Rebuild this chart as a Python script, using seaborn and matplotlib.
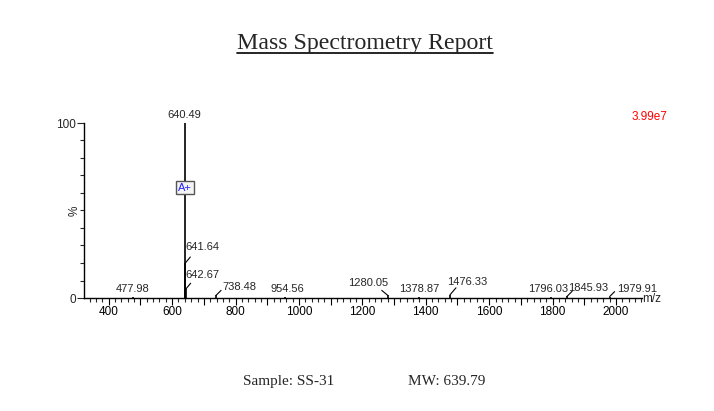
import matplotlib
matplotlib.use("Agg")
import matplotlib.pyplot as plt
import seaborn as sns
import numpy as np
from matplotlib.lines import Line2D
from matplotlib.ticker import MultipleLocator, FixedLocator, FuncFormatter

# ---- data ----
mz = [477.98, 640.49, 641.64, 642.67, 738.48, 954.56, 1280.05, 1378.87,
      1476.33, 1796.03, 1845.93, 1979.91]
intensity = [0.8, 100, 20, 5, 1.5, 0.6, 1.5, 0.5, 1.8, 0.8, 1.0, 0.8]
peak_labels = ["477.98", "640.49", "641.64", "642.67", "738.48", "954.56",
               "1280.05", "1378.87", "1476.33", "1796.03", "1845.93", "1979.91"]
x_ticklabels = ["400", "600", "800", "1000", "1200", "1400", "1600", "1800", "2000"]
title = "Mass Spectrometry Report"
sample_text = "Sample: SS-31"
mw_text = "MW: 639.79"
scale_text = "3.99e7"

# label offsets in pixels (dx, dy) from peak top; leader end offset (or None)
label_offsets = [(-1, 3, None), (-1, 3, None), (17, 11, (5, 6)), (17, 9, (5, 6)),
                 (23, 3, (5, 5)), (3, 3, None), (-20, 7, (-6, 5)), (0, 3, None),
                 (17, 8, (6, 7)), (-3, 3, None), (21, 3, (5, 5)), (27, 3, (5, 5))]

sns.set_style("ticks")
plt.rcParams['font.family'] = ['Liberation Sans', 'DejaVu Sans']

W, H = 714, 411
fig = plt.figure(figsize=(W / 100, H / 100), dpi=100)
ax = fig.add_axes([84 / W, (H - 298) / H, 558 / W, 175 / H])

ax.vlines(mz, 0, intensity, colors="black", linewidth=1.2)
ax.set_xlim(322, 2082)
ax.set_ylim(0, 100)
ax.set_facecolor("white")
sns.despine(ax=ax)
for s in ["left", "bottom"]:
    ax.spines[s].set_linewidth(1.0)
    ax.spines[s].set_color("black")

# x ticks
ax.xaxis.set_major_locator(MultipleLocator(100))
ax.xaxis.set_minor_locator(MultipleLocator(20))
lab_map = {int(t): t for t in x_ticklabels}
ax.xaxis.set_major_formatter(FuncFormatter(lambda v, p: str(int(round(v))) if int(round(v)) in lab_map else ""))
ax.tick_params(axis="x", which="major", length=5, width=0.8, direction="out",
               labelsize=8.5, pad=1, colors="black")
ax.tick_params(axis="x", which="minor", length=3, width=0.8, direction="out")

# y ticks
ax.yaxis.set_major_locator(FixedLocator([0, 100]))
ax.yaxis.set_minor_locator(MultipleLocator(10))
ax.tick_params(axis="y", which="major", length=5, width=0.8, direction="out",
               labelsize=8.5, pad=1)
ax.tick_params(axis="y", which="minor", length=3, width=0.8, direction="out")

ax.text(-0.016, 0.5, "%", rotation=90, transform=ax.transAxes,
        ha="center", va="center", fontsize=8.5)
ax.text(1.0, -0.005, "m/z", transform=ax.transAxes, ha="left", va="center",
        fontsize=8.5)

# peak labels
for x, y, lab, (dx, dy, lead) in zip(mz, intensity, peak_labels, label_offsets):
    ax.annotate(lab, xy=(x, y), xytext=(dx, dy), textcoords="offset pixels",
                ha="center", va="bottom", fontsize=8)
    if lead is not None:
        ax.annotate("", xy=(x, y), xytext=lead, textcoords="offset pixels",
                    arrowprops=dict(arrowstyle="-", lw=0.8, color="black",
                                    shrinkA=0, shrinkB=0))

# A+ marker
ax.text(mz[1], 63, "A+", ha="center", va="center", fontsize=8, color="#2020ff",
        bbox=dict(boxstyle="square,pad=0.15", fc="#f4f4f4", ec="#555555", lw=1.0))

# scale text
fig.text(667 / W, (H - 117) / H, scale_text, color="red", ha="right",
         va="center", fontsize=8.5)

# title with underline
t = fig.text(365 / W, (H - 49) / H, title, ha="center", va="baseline",
             fontsize=17.2, family=["Liberation Serif", "DejaVu Serif"])
fig.text(243 / W, (H - 385) / H, sample_text, ha="left", va="baseline",
         fontsize=11, family=["Liberation Serif", "DejaVu Serif"])
fig.text(408 / W, (H - 385) / H, mw_text, ha="left", va="baseline",
         fontsize=11, family=["Liberation Serif", "DejaVu Serif"])

fig.canvas.draw()
bb = t.get_window_extent()
uy = (H - 53) / H
fig.add_artist(Line2D([bb.x0 / W, bb.x1 / W], [uy, uy], transform=fig.transFigure,
                      color="black", lw=1.2))

fig.savefig("out.png", dpi=100, facecolor="white")
